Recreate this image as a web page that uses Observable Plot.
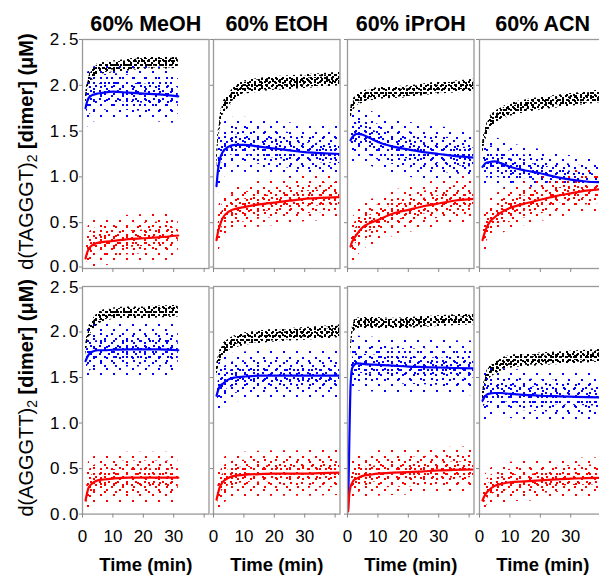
<!DOCTYPE html>
<html><head><meta charset="utf-8">
<script src="https://cdn.jsdelivr.net/npm/d3@7"></script>
<script src="https://cdn.jsdelivr.net/npm/@observablehq/plot@0.6"></script>
<style>
body{margin:0;background:#fff;}
#chart{position:relative;width:599px;height:576px;overflow:hidden;background:#fff;font-family:"Liberation Sans",Arial,sans-serif;}
#chart g[aria-label="y-axis tick label"] text{letter-spacing:2.5px;}
</style></head><body><div id="chart"></div>
<script>
// ---- categories & ticks ----
const solvents = ["60% MeOH", "60% EtOH", "60% iPrOH", "60% ACN"];
const sequences = ["TAGGGT", "AGGGTT"];
const xTicks = [0, 10, 20, 30, 40];
const xTickLabels = [0, 10, 20, 30];
const yTicks = [0, 0.5, 1, 1.5, 2, 2.5];

// ---- sampling times (min) ----
const timeMeOH = [1, 1.5, 2, 3, 5, 7, 10, 15, 20, 25, 31.5];
const timeLong = [1, 1.5, 2, 3, 5, 7, 10, 15, 20, 25, 30, 35, 41.6];
const timeIPrOH2 = [0.2, 0.6, 1, 1.5, 2, 3, 5, 7, 10, 15, 20, 25, 30, 35, 41.6];

// ---- d(TAGGGT)2 : black, blue, red (µM) ----
const TAGGGT_MeOH_black = [1.84, 1.95, 2.03, 2.10, 2.17, 2.19, 2.20, 2.22, 2.24, 2.24, 2.25];
const TAGGGT_MeOH_blue  = [1.75, 1.82, 1.86, 1.89, 1.91, 1.92, 1.93, 1.92, 1.91, 1.90, 1.88];
const TAGGGT_MeOH_red   = [0.11, 0.17, 0.21, 0.25, 0.28, 0.29, 0.30, 0.32, 0.33, 0.34, 0.36];
const TAGGGT_EtOH_black = [1.13, 1.40, 1.55, 1.72, 1.83, 1.91, 1.97, 2.00, 2.02, 2.03, 2.04, 2.05, 2.07];
const TAGGGT_EtOH_blue  = [0.90, 1.08, 1.18, 1.27, 1.33, 1.35, 1.35, 1.33, 1.31, 1.29, 1.27, 1.26, 1.25];
const TAGGGT_EtOH_red   = [0.31, 0.40, 0.46, 0.55, 0.62, 0.65, 0.67, 0.70, 0.72, 0.74, 0.76, 0.77, 0.78];
const TAGGGT_iPrOH_black = [1.69, 1.75, 1.79, 1.84, 1.87, 1.89, 1.91, 1.92, 1.93, 1.95, 1.97, 1.98, 2.00];
const TAGGGT_iPrOH_blue  = [1.40, 1.43, 1.45, 1.47, 1.46, 1.43, 1.38, 1.33, 1.30, 1.27, 1.25, 1.23, 1.21];
const TAGGGT_iPrOH_red   = [0.24, 0.29, 0.32, 0.37, 0.45, 0.49, 0.53, 0.60, 0.64, 0.68, 0.71, 0.74, 0.76];
const TAGGGT_ACN_black = [1.31, 1.40, 1.47, 1.56, 1.64, 1.68, 1.73, 1.77, 1.80, 1.82, 1.84, 1.86, 1.89];
const TAGGGT_ACN_blue  = [1.11, 1.13, 1.15, 1.16, 1.17, 1.15, 1.11, 1.07, 1.04, 1.00, 0.97, 0.95, 0.94];
const TAGGGT_ACN_red   = [0.31, 0.37, 0.42, 0.49, 0.56, 0.61, 0.66, 0.71, 0.75, 0.79, 0.82, 0.85, 0.87];

// ---- d(AGGGTT)2 ----
const AGGGTT_MeOH_black = [1.79, 1.90, 1.98, 2.05, 2.14, 2.18, 2.20, 2.21, 2.21, 2.22, 2.23];
const AGGGTT_MeOH_blue  = [1.68, 1.72, 1.75, 1.78, 1.80, 1.80, 1.805, 1.81, 1.81, 1.81, 1.80];
const AGGGTT_MeOH_red   = [0.15, 0.23, 0.29, 0.33, 0.37, 0.38, 0.39, 0.40, 0.40, 0.40, 0.40];
const AGGGTT_EtOH_black = [1.57, 1.65, 1.72, 1.79, 1.85, 1.89, 1.92, 1.94, 1.96, 1.97, 1.98, 1.99, 2.01];
const AGGGTT_EtOH_blue  = [1.30, 1.36, 1.40, 1.43, 1.48, 1.50, 1.51, 1.52, 1.52, 1.52, 1.52, 1.52, 1.52];
const AGGGTT_EtOH_red   = [0.16, 0.23, 0.29, 0.35, 0.40, 0.42, 0.43, 0.44, 0.445, 0.445, 0.445, 0.45, 0.455];
const AGGGTT_iPrOH_black = [null, null, 1.80, 1.97, 2.05, 2.09, 2.10, 2.10, 2.10, 2.09, 2.10, 2.11, 2.12, 2.13, 2.14];
const AGGGTT_iPrOH_blue  = [0.05, 0.80, 1.40, 1.60, 1.63, 1.655, 1.65, 1.645, 1.64, 1.63, 1.62, 1.615, 1.61, 1.605, 1.60];
const AGGGTT_iPrOH_red   = [0.03, 0.22, 0.30, 0.34, 0.37, 0.39, 0.42, 0.43, 0.445, 0.455, 0.46, 0.47, 0.48, 0.485, 0.49];
const AGGGTT_ACN_black = [1.28, 1.38, 1.46, 1.54, 1.60, 1.64, 1.67, 1.69, 1.70, 1.71, 1.72, 1.73, 1.74];
const AGGGTT_ACN_blue  = [1.245, 1.28, 1.30, 1.32, 1.33, 1.33, 1.32, 1.31, 1.30, 1.295, 1.29, 1.285, 1.28];
const AGGGTT_ACN_red   = [0.15, 0.19, 0.22, 0.26, 0.31, 0.33, 0.35, 0.36, 0.37, 0.38, 0.39, 0.395, 0.40];

// ---- scatter half-widths (µM), per solvent ----
const spread_TAGGGT_black = [0.065, 0.075, 0.065, 0.07];
const spread_TAGGGT_blue  = [0.30, 0.30, 0.30, 0.26];
const spread_TAGGGT_red   = [0.26, 0.25, 0.25, 0.24];
const spread_AGGGTT_black = [0.065, 0.07, 0.06, 0.07];
const spread_AGGGTT_blue  = [0.30, 0.27, 0.30, 0.27];
const spread_AGGGTT_red   = [0.28, 0.25, 0.25, 0.22];

// ---- assembly ----
const panelTimes = [[timeMeOH, timeLong, timeLong, timeLong], [timeMeOH, timeLong, timeIPrOH2, timeLong]];
const blackSeries = [[TAGGGT_MeOH_black, TAGGGT_EtOH_black, TAGGGT_iPrOH_black, TAGGGT_ACN_black],
                     [AGGGTT_MeOH_black, AGGGTT_EtOH_black, AGGGTT_iPrOH_black, AGGGTT_ACN_black]];
const blueSeries  = [[TAGGGT_MeOH_blue, TAGGGT_EtOH_blue, TAGGGT_iPrOH_blue, TAGGGT_ACN_blue],
                     [AGGGTT_MeOH_blue, AGGGTT_EtOH_blue, AGGGTT_iPrOH_blue, AGGGTT_ACN_blue]];
const redSeries   = [[TAGGGT_MeOH_red, TAGGGT_EtOH_red, TAGGGT_iPrOH_red, TAGGGT_ACN_red],
                     [AGGGTT_MeOH_red, AGGGTT_EtOH_red, AGGGTT_iPrOH_red, AGGGTT_ACN_red]];
const spreads = [[spread_TAGGGT_black, spread_TAGGGT_blue, spread_TAGGGT_red],
                 [spread_AGGGTT_black, spread_AGGGTT_blue, spread_AGGGTT_red]];

// ---- layout (style) ----
const FONT = "'Liberation Sans', Arial, sans-serif";
const colLeft = [81.7, 213, 346.7, 478.7];
const panelW = 126.5;
const rowTop = [39.3, 285.7];
const rowH = [229, 227.6];
const ML = 82, MR = 2, MT = 40, MB = 64;

// ---- dot textures (style): layered tiles of unrelated sizes ----
const chart = d3.select("#chart");
const defs = chart.append("svg").attr("width", 0).attr("height", 0).style("position", "absolute").append("defs");
function makePattern(id, color, w, h, dots, s) {
  const p = defs.append("pattern").attr("id", id).attr("patternUnits", "userSpaceOnUse").attr("width", w).attr("height", h);
  for (const [x, y] of dots) p.append("rect").attr("x", x).attr("y", y).attr("width", s).attr("height", s).attr("fill", color);
}
const texA = {w: 13, h: 11, dots: [[2, 1], [9, 6]]};
const texB = {w: 11, h: 9, dots: [[5, 2], [1, 6]]};
const texC = {w: 9, h: 8, dots: [[0, 3], [5, 6]]};
const texK1 = {w: 7, h: 5, dots: [[1, 0], [4, 3]]};
const texK2 = {w: 6, h: 4, dots: [[3, 1]]};
const texK3 = {w: 5, h: 7, dots: [[0, 2], [3, 5]]};
for (const [name, col] of [["blue", "#0000ff"], ["red", "#ff0000"]]) {
  makePattern(name + "A", col, texA.w, texA.h, texA.dots, 2);
  makePattern(name + "B", col, texB.w, texB.h, texB.dots, 2);
  makePattern(name + "C", col, texC.w, texC.h, texC.dots, 2);
}
makePattern("blackA", "#000", texK1.w, texK1.h, texK1.dots, 2);
makePattern("blackB", "#000", texK2.w, texK2.h, texK2.dots, 2);
makePattern("blackC", "#000", texK3.w, texK3.h, texK3.dots, 2);

function panel(r, c) {
  const times = panelTimes[r][c];
  const toRows = arr => times.map((t, i) => ({t, v: arr[i]})).filter(d => d.v != null);
  const bk = toRows(blackSeries[r][c]), bl = toRows(blueSeries[r][c]), rd = toRows(redSeries[r][c]);
  const [sK, sB, sR] = spreads[r].map(a => a[c]);
  const cloud = rows => rows.filter(d => d.t >= 1);
  const band = (rows, s, fill) => Plot.areaY(cloud(rows), {x: "t", y1: d => d.v - s, y2: d => d.v + s, fill, curve: "monotone-x", clip: true});
  const yFmt = c === 0 ? d3.format(".1f") : () => "";
  // keep the 0.0 / 2.5 labels of stacked rows apart by a pixel
  const edgeTick = r === 0 ? 0 : 2.5;
  const plot = Plot.plot({
    width: ML + panelW + MR,
    height: MT + rowH[r] + MB,
    marginLeft: ML, marginRight: MR, marginTop: MT, marginBottom: MB,
    style: {position: "absolute", left: (colLeft[c] - ML) + "px", top: (rowTop[r] - MT) + "px", overflow: "visible", maxWidth: "none", fontFamily: FONT, background: "transparent"},
    x: {domain: [0, 41.6], axis: null},
    y: {domain: [0, 2.5], axis: null},
    marks: [
      band(bk, sK, "url(#blackA)"),
      band(bk, sK * 0.8, "url(#blackC)"),
      band(bk, sK * 0.5, "url(#blackB)"),
      band(bl, sB, "url(#blueA)"),
      band(bl, sB * 0.65, "url(#blueB)"),
      band(bl, sB * 0.35, "url(#blueC)"),
      band(rd, sR, "url(#redA)"),
      band(rd, sR * 0.65, "url(#redB)"),
      band(rd, sR * 0.35, "url(#redC)"),
      Plot.line(bl, {x: "t", y: "v", stroke: "#0000ff", strokeWidth: 2.2, curve: "monotone-x", clip: true}),
      Plot.line(rd, {x: "t", y: "v", stroke: "#ff0000", strokeWidth: 2.2, curve: "monotone-x", clip: true}),
      Plot.frame({stroke: "#999", strokeWidth: 1.3}),
      Plot.axisY(yTicks.filter(d => d !== edgeTick), {tickSize: 3, tickPadding: -1.5, stroke: "#888", fill: "#000", fontSize: 17, label: null, tickFormat: yFmt}),
      Plot.axisY([edgeTick], {tickSize: 3, tickPadding: -1.5, stroke: "#888", fill: "#000", fontSize: 17, label: null, tickFormat: yFmt, dy: r === 0 ? -1.5 : 1.5}),
      Plot.axisX(xTicks, {tickSize: 4, tickPadding: 12, stroke: "#888", fill: "#000", fontSize: 17, label: null,
        tickFormat: r === 1 ? (d => xTickLabels.includes(d) ? String(d) : "") : () => ""}),
      r === 0 ? Plot.text([solvents[c]], {frameAnchor: "top", lineAnchor: "bottom", dy: -8.3, fontSize: 21.5, fontWeight: "bold", fill: "#000"}) : null,
      r === 1 ? Plot.text(["Time (min)"], {frameAnchor: "bottom", lineAnchor: "bottom", dy: 56.5, fontSize: 18.5, fontWeight: "bold", fill: "#000"}) : null
    ]
  });
  if (c === 0) {
    const yc = plot.scale("y").apply(1.25) - 2;
    const t = d3.select(plot).append("text")
      .attr("transform", `translate(${32.5 - (colLeft[c] - ML)},${yc}) rotate(-90)`)
      .attr("text-anchor", "middle").attr("font-size", 20).attr("fill", "#000").attr("font-family", FONT);
    t.append("tspan").text(`d(${sequences[r]})`);
    t.append("tspan").attr("font-size", 14).attr("dy", 4).text("2");
    t.append("tspan").attr("font-weight", "bold").attr("dy", -4).text(" [dimer] (\u03BCM)");
  }
  return plot;
}

for (let r = 0; r < 2; r++) for (let c = 0; c < 4; c++) chart.node().appendChild(panel(r, c));
</script>
</body></html>
